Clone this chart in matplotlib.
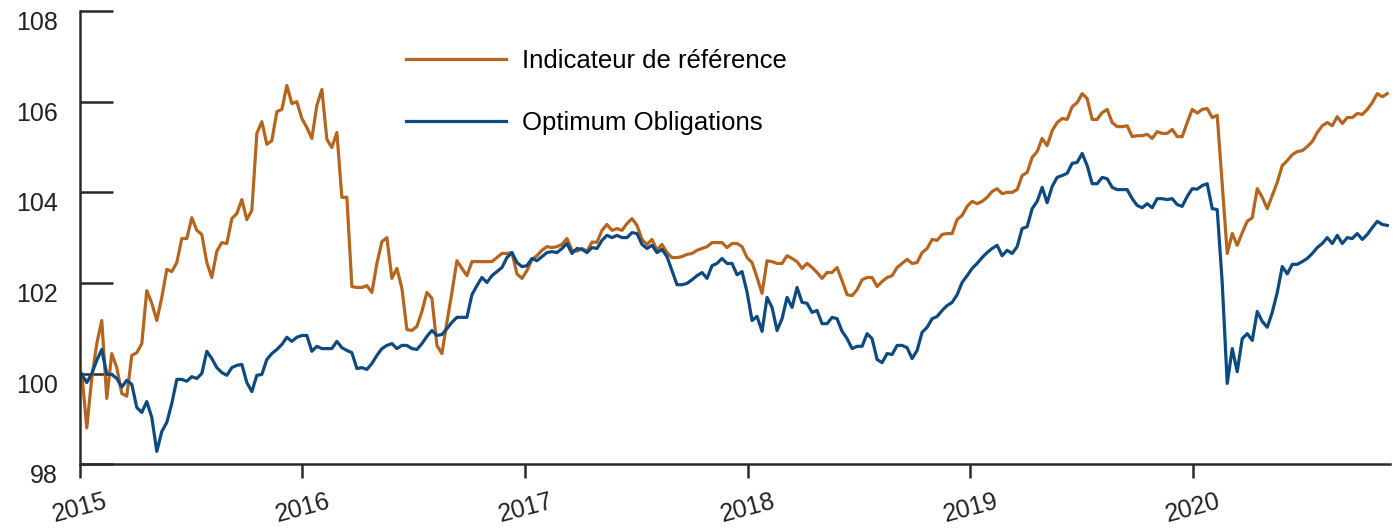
import numpy as np
import pandas as pd
import matplotlib
matplotlib.use("Agg")
import matplotlib.pyplot as plt
import matplotlib.dates as mdates

# ===================================================================
# DONNÉES (base 100 début 2015)
# ===================================================================
START = "2015-01-04"
END = "2020-11-15"

indicateur = [
    100.0, 98.8, 99.9, 100.66, 101.17, 99.45, 100.44, 100.13, 99.56, 99.5,
    100.4, 100.46, 100.66, 101.83, 101.55, 101.17, 101.68, 102.3, 102.25, 102.45,
    102.98, 102.98, 103.44, 103.16, 103.07, 102.45, 102.12, 102.7, 102.89, 102.87,
    103.42, 103.53, 103.84, 103.4, 103.6, 105.3, 105.56, 105.06, 105.14, 105.78,
    105.83, 106.36, 105.96, 106.0, 105.63, 105.43, 105.19, 105.92, 106.27, 105.17,
    104.99, 105.32, 103.89, 103.89, 101.92, 101.9, 101.9, 101.94, 101.79, 102.43,
    102.91, 103.0, 102.1, 102.32, 101.88, 100.97, 100.95, 101.04, 101.37, 101.79,
    101.66, 100.62, 100.44, 101.13, 101.79, 102.49, 102.32, 102.16, 102.47, 102.47,
    102.47, 102.47, 102.47, 102.56, 102.65, 102.65, 102.67, 102.2, 102.1, 102.27,
    102.52, 102.6, 102.72, 102.8, 102.78, 102.8, 102.85, 102.98, 102.72, 102.7,
    102.76, 102.7, 102.9, 102.9, 103.16, 103.29, 103.16, 103.2, 103.16, 103.31,
    103.42, 103.27, 102.96, 102.85, 102.96, 102.72, 102.85, 102.67, 102.56, 102.56,
    102.58, 102.63, 102.65, 102.72, 102.76, 102.8, 102.89, 102.89, 102.89, 102.78,
    102.87, 102.87, 102.8, 102.56, 102.45, 102.12, 101.77, 102.49, 102.47, 102.43,
    102.43, 102.6, 102.54, 102.47, 102.32, 102.43, 102.34, 102.23, 102.1, 102.23,
    102.23, 102.34, 102.05, 101.74, 101.72, 101.85, 102.07, 102.12, 102.12, 101.92,
    102.03, 102.12, 102.16, 102.34, 102.43, 102.52, 102.43, 102.45, 102.67, 102.76,
    102.96, 102.94, 103.07, 103.09, 103.09, 103.4, 103.49, 103.69, 103.8, 103.75,
    103.8, 103.89, 104.02, 104.08, 103.97, 104.0, 104.0, 104.06, 104.37, 104.44,
    104.77, 104.9, 105.19, 105.03, 105.36, 105.54, 105.63, 105.61, 105.89, 105.98,
    106.18, 106.07, 105.61, 105.61, 105.76, 105.83, 105.54, 105.45, 105.45, 105.47,
    105.23, 105.25, 105.25, 105.28, 105.19, 105.34, 105.3, 105.3, 105.39, 105.23,
    105.23, 105.54, 105.83, 105.75, 105.83, 105.85, 105.65, 105.7, 104.19, 102.65,
    103.09, 102.83, 103.11, 103.36, 103.44, 104.08, 103.89, 103.64, 103.93, 104.22,
    104.59, 104.7, 104.83, 104.9, 104.92, 105.01, 105.12, 105.32, 105.47, 105.54,
    105.47, 105.67, 105.52, 105.65, 105.65, 105.74, 105.72, 105.83, 105.98, 106.18,
    106.11, 106.18,
]

optimum = [
    99.98, 99.8, 100.0, 100.29, 100.53, 99.98, 99.98, 99.89, 99.7, 99.85,
    99.76, 99.25, 99.14, 99.38, 99.03, 98.28, 98.72, 98.92, 99.34, 99.87,
    99.87, 99.83, 99.93, 99.89, 100.0, 100.49, 100.33, 100.13, 100.02, 99.96,
    100.13, 100.18, 100.2, 99.8, 99.6, 99.96, 99.98, 100.31, 100.44, 100.53,
    100.64, 100.8, 100.71, 100.8, 100.84, 100.84, 100.49, 100.6, 100.55, 100.55,
    100.55, 100.71, 100.57, 100.51, 100.46, 100.11, 100.13, 100.09, 100.22, 100.4,
    100.55, 100.62, 100.66, 100.55, 100.62, 100.62, 100.55, 100.53, 100.66, 100.82,
    100.95, 100.84, 100.86, 100.99, 101.13, 101.24, 101.24, 101.24, 101.74, 101.94,
    102.12, 102.01, 102.16, 102.25, 102.34, 102.56, 102.67, 102.45, 102.36, 102.38,
    102.54, 102.49, 102.58, 102.67, 102.69, 102.67, 102.76, 102.87, 102.65, 102.76,
    102.74, 102.67, 102.78, 102.76, 102.94, 103.05, 103.0, 103.05, 103.0, 103.0,
    103.11, 103.09, 102.85, 102.76, 102.83, 102.67, 102.74, 102.58, 102.27, 101.96,
    101.96, 101.99, 102.07, 102.16, 102.23, 102.1, 102.38, 102.43, 102.54, 102.43,
    102.43, 102.18, 102.25, 101.8, 101.17, 101.26, 100.93, 101.68, 101.46, 100.95,
    101.21, 101.68, 101.46, 101.9, 101.57, 101.55, 101.35, 101.39, 101.1, 101.1,
    101.24, 101.21, 100.93, 100.77, 100.55, 100.6, 100.6, 100.88, 100.77, 100.31,
    100.24, 100.44, 100.42, 100.62, 100.62, 100.57, 100.33, 100.51, 100.91, 101.02,
    101.21, 101.26, 101.39, 101.5, 101.57, 101.74, 102.01, 102.16, 102.32, 102.43,
    102.56, 102.67, 102.76, 102.83, 102.6, 102.72, 102.65, 102.8, 103.2, 103.24,
    103.64, 103.8, 104.11, 103.77, 104.13, 104.33, 104.37, 104.42, 104.64, 104.66,
    104.86, 104.59, 104.19, 104.19, 104.33, 104.3, 104.11, 104.06, 104.06, 104.06,
    103.86, 103.71, 103.66, 103.75, 103.66, 103.86, 103.86, 103.84, 103.86, 103.73,
    103.69, 103.91, 104.08, 104.07, 104.15, 104.19, 103.64, 103.62, 102.0, 99.78,
    100.55, 100.04, 100.77, 100.88, 100.73, 101.37, 101.15, 101.02, 101.35, 101.79,
    102.36, 102.2, 102.41, 102.41, 102.47, 102.54, 102.65, 102.78, 102.87, 103.0,
    102.87, 103.05, 102.87, 103.0, 102.98, 103.09, 102.96, 103.07, 103.22, 103.36,
    103.29, 103.27,
]

LABELS = ["Indicateur de référence", "Optimum Obligations"]
COLORS = ["#B5651D", "#0D4A80"]
Y_TICKS = [98, 100, 102, 104, 106, 108]
YEARS = [2015, 2016, 2017, 2018, 2019, 2020]

plt.rcParams["font.family"] = ["Liberation Sans", "DejaVu Sans"]
AXIS_COLOR = "#2b2a2a"

# ===================================================================
# GRAPHIQUE
# ===================================================================
fig = plt.figure(figsize=(14, 5.31), dpi=100)
ax = fig.add_axes([0.0571, 0.126, 0.936, 0.853])

for values, label, color in zip([indicateur, optimum], LABELS, COLORS):
    dates = pd.date_range(START, END, periods=len(values))
    ax.plot(dates, values, color=color, lw=2.3, label=label)

ax.set_xlim(pd.Timestamp("2015-01-01"), pd.Timestamp("2020-11-20"))
ax.set_ylim(98, 108)

ax.set_yticks(Y_TICKS)
ax.set_yticklabels([str(v) for v in Y_TICKS], va="top")
ax.set_xticks([pd.Timestamp(f"{y}-01-01") for y in YEARS])
ax.set_xticklabels([str(y) for y in YEARS], rotation=15, ha="center")

for side in ["top", "right"]:
    ax.spines[side].set_visible(False)
for side in ["left", "bottom"]:
    ax.spines[side].set_color(AXIS_COLOR)
    ax.spines[side].set_linewidth(1.8)

ax.tick_params(axis="y", direction="in", length=24, width=1.8, color=AXIS_COLOR,
               labelsize=18, pad=16, labelcolor="#222222")
ax.tick_params(axis="x", direction="out", length=10, width=1.8, color=AXIS_COLOR,
               labelsize=18, pad=8, labelcolor="#222222")

ax.legend(loc="upper left", bbox_to_anchor=(406 / 1400, 1 - 49 / 531),
          bbox_transform=fig.transFigure, frameon=False, fontsize=18.5,
          handlelength=3.9, handletextpad=0.62, labelspacing=1.46, borderpad=0,
          borderaxespad=0)

fig.savefig("out.png", dpi=100)
